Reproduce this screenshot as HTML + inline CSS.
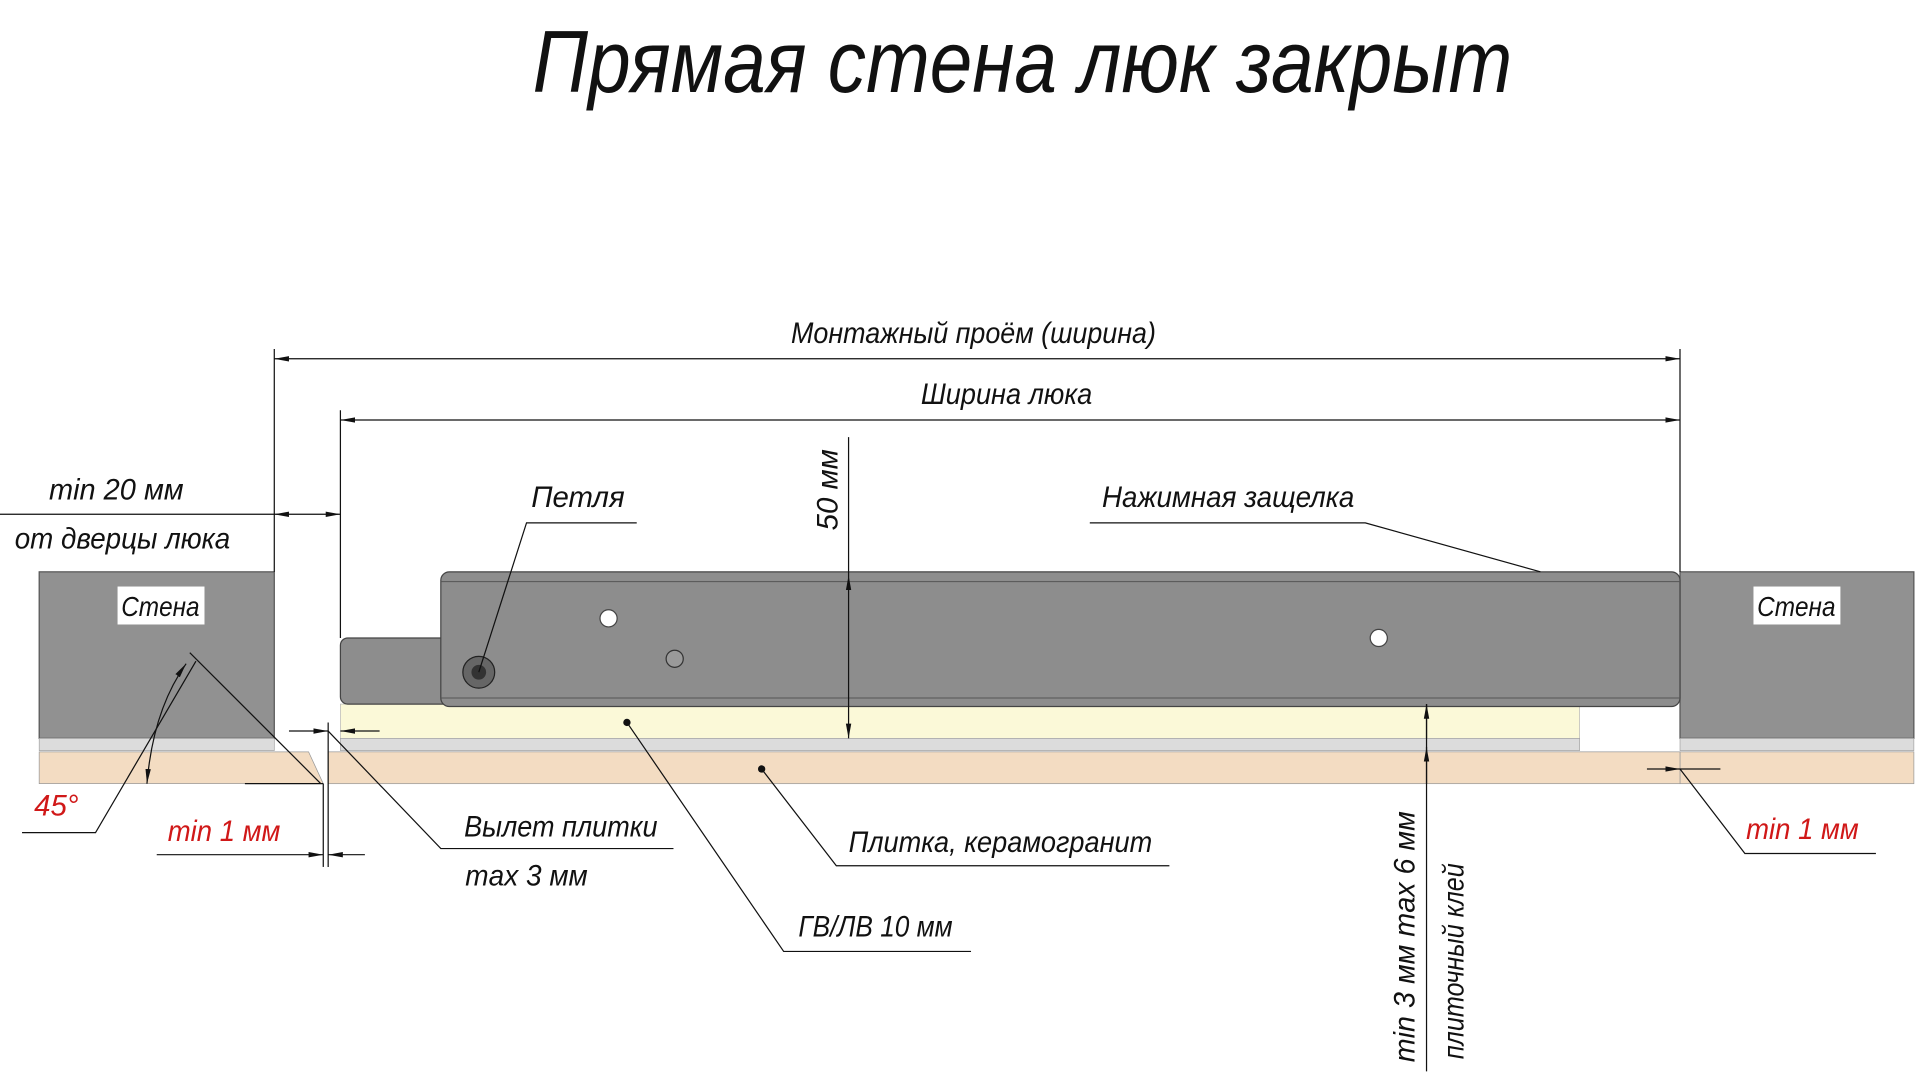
<!DOCTYPE html>
<html><head><meta charset="utf-8"><style>
html,body{margin:0;padding:0;background:#fff;width:1920px;height:1080px;overflow:hidden}
svg{display:block}
text{font-family:"Liberation Sans","DejaVu Sans",sans-serif;font-style:italic;fill:#111}
</style></head><body>
<svg width="1920" height="1080" viewBox="0 0 1568 882" xmlns="http://www.w3.org/2000/svg">
<defs>
<marker id="a" viewBox="0 0 12 6" refX="12" refY="3" markerWidth="12" markerHeight="6" orient="auto-start-reverse" markerUnits="userSpaceOnUse"><path d="M0,0.8 L12,3 L0,5.2 Z" fill="#111"/></marker>
</defs>
<text x="835" y="75" font-size="72" text-anchor="middle" textLength="800" lengthAdjust="spacingAndGlyphs">Прямая стена люк закрыт</text>

<rect x="32" y="467" width="192" height="136" fill="#919191" stroke="#555"/>
<rect x="32" y="603" width="192" height="10" fill="#dcdcdc" stroke="#999" stroke-width="0.5"/>
<polygon points="32,614 252,614 264,640 32,640" fill="#f3dcc2" stroke="#999" stroke-width="0.6"/>
<rect x="1372" y="467" width="191" height="136" fill="#919191" stroke="#555"/>
<rect x="1372" y="603" width="191" height="10" fill="#dcdcdc" stroke="#999" stroke-width="0.5"/>
<rect x="1372" y="614" width="191" height="26" fill="#f3dcc2" stroke="#999" stroke-width="0.6"/>
<rect x="268" y="614" width="1104" height="26" fill="#f3dcc2" stroke="#999" stroke-width="0.6"/>
<rect x="96" y="479" width="71" height="31" fill="#fff"/>
<text x="131" y="503" font-size="23" text-anchor="middle" textLength="64" lengthAdjust="spacingAndGlyphs">Стена</text>
<rect x="1432" y="479" width="71" height="31" fill="#fff"/>
<text x="1467" y="503" font-size="23" text-anchor="middle" textLength="64" lengthAdjust="spacingAndGlyphs">Стена</text>

<rect x="278" y="575" width="1012" height="28" fill="#fbf9d8" stroke="#bbb" stroke-width="0.6"/>
<rect x="278" y="603" width="1012" height="10" fill="#dcdcdc" stroke="#999" stroke-width="0.5"/>
<rect x="278" y="521" width="90" height="54" rx="6" fill="#8d8d8d" stroke="#444"/>
<rect x="360" y="467" width="1012" height="110" rx="7" fill="#8d8d8d" stroke="#444"/>
<line x1="360" y1="475" x2="1372" y2="475" stroke="#555" stroke-width="0.8"/>
<line x1="360" y1="570" x2="1372" y2="570" stroke="#555" stroke-width="0.8"/>
<circle cx="391" cy="549" r="13" fill="#666" stroke="#222"/>
<circle cx="391" cy="549" r="6" fill="#333"/>
<circle cx="497" cy="505" r="7" fill="#fff" stroke="#444"/>
<circle cx="551" cy="538" r="7" fill="#9a9a9a" stroke="#333"/>
<circle cx="1126" cy="521" r="7" fill="#fff" stroke="#444"/>

<g stroke="#111" stroke-width="1" fill="none">
<line x1="224" y1="285" x2="224" y2="467"/>
<line x1="1372" y1="285" x2="1372" y2="467"/>
<line x1="278" y1="335" x2="278" y2="521"/>
<line x1="224" y1="293" x2="1372" y2="293" marker-start="url(#a)" marker-end="url(#a)"/>
<line x1="278" y1="343" x2="1372" y2="343" marker-start="url(#a)" marker-end="url(#a)"/>
<line x1="0" y1="420" x2="224" y2="420"/>
<line x1="224" y1="420" x2="278" y2="420" marker-start="url(#a)" marker-end="url(#a)"/>
<line x1="693" y1="357" x2="693" y2="470"/>
<line x1="693" y1="470" x2="693" y2="490" marker-start="url(#a)"/>
<line x1="693" y1="490" x2="693" y2="603" marker-end="url(#a)"/>
<polyline points="391,549 430,427 520,427"/>
<polyline points="890,427 1115,427 1258,467"/>
<polyline points="18,680 78,680 160,540"/>
<line x1="155" y1="533" x2="262" y2="640"/>
<path d="M152,542 Q125,580 120,640" marker-start="url(#a)" marker-end="url(#a)"/>
<line x1="200" y1="640" x2="264" y2="640"/>
<line x1="264" y1="640" x2="264" y2="708"/>
<line x1="268" y1="590" x2="268" y2="708"/>
<line x1="128" y1="698" x2="264" y2="698" marker-end="url(#a)"/>
<line x1="298" y1="698" x2="268" y2="698" marker-end="url(#a)"/>
<line x1="236" y1="597" x2="268" y2="597" marker-end="url(#a)"/>
<line x1="310" y1="597" x2="278" y2="597" marker-end="url(#a)"/>
<polyline points="268,597 360,693 550,693"/>
<polyline points="512,590 640,777 793,777"/>
<polyline points="622,628 683,707 955,707"/>
<line x1="1345" y1="628" x2="1372" y2="628" marker-end="url(#a)"/>
<line x1="1405" y1="628" x2="1372" y2="628"/>
<polyline points="1372,628 1425,697 1532,697"/>
<line x1="1165" y1="575" x2="1165" y2="875"/>
<line x1="1165" y1="575" x2="1165" y2="603" marker-start="url(#a)"/>
<line x1="1165" y1="610" x2="1165" y2="640" marker-start="url(#a)"/>
</g>
<circle cx="512" cy="590" r="3" fill="#111"/>
<circle cx="622" cy="628" r="3" fill="#111"/>

<g font-size="24">
<text x="795" y="280" text-anchor="middle" textLength="298" lengthAdjust="spacingAndGlyphs">Монтажный проём (ширина)</text>
<text x="822" y="330" text-anchor="middle" textLength="140" lengthAdjust="spacingAndGlyphs">Ширина люка</text>
<text x="95" y="408" text-anchor="middle" textLength="110" lengthAdjust="spacingAndGlyphs">min 20 мм</text>
<text x="100" y="448" text-anchor="middle" textLength="176" lengthAdjust="spacingAndGlyphs">от дверцы люка</text>
<text x="472" y="414" text-anchor="middle">Петля</text>
<text x="1003" y="414" text-anchor="middle" textLength="206" lengthAdjust="spacingAndGlyphs">Нажимная защелка</text>
<text transform="translate(684,400) rotate(-90)" text-anchor="middle">50 мм</text>
<text x="46" y="666" text-anchor="middle" style="fill:#d01818">45°</text>
<text x="183" y="687" text-anchor="middle" style="fill:#d01818" textLength="92" lengthAdjust="spacingAndGlyphs">min 1 мм</text>
<text x="1472" y="685" text-anchor="middle" style="fill:#d01818" textLength="92" lengthAdjust="spacingAndGlyphs">min 1 мм</text>
<text x="458" y="683" text-anchor="middle" textLength="158" lengthAdjust="spacingAndGlyphs">Вылет плитки</text>
<text x="430" y="723" text-anchor="middle" textLength="100" lengthAdjust="spacingAndGlyphs">max 3 мм</text>
<text x="817" y="696" text-anchor="middle" textLength="248" lengthAdjust="spacingAndGlyphs">Плитка, керамогранит</text>
<text x="715" y="765" text-anchor="middle" textLength="126" lengthAdjust="spacingAndGlyphs">ГВ/ЛВ 10 мм</text>
<text transform="translate(1155,765) rotate(-90)" text-anchor="middle" textLength="205" lengthAdjust="spacingAndGlyphs">min 3 мм max 6 мм</text>
<text transform="translate(1195,785) rotate(-90)" text-anchor="middle" textLength="160" lengthAdjust="spacingAndGlyphs">плиточный клей</text>
</g>
</svg>
</body></html>
